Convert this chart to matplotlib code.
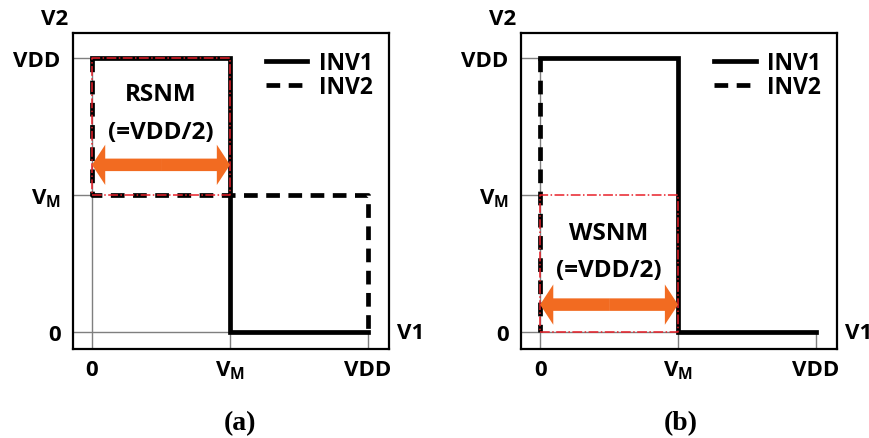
import matplotlib
matplotlib.use("Agg")
from matplotlib import pyplot as plt

plt.rcParams['font.family'] = ['Open Sans', 'DejaVu Sans']
plt.rcParams['font.weight'] = 'bold'
plt.rcParams['mathtext.fontset'] = 'custom'
plt.rcParams['mathtext.rm'] = 'Open Sans:bold'
plt.rcParams['mathtext.it'] = 'Open Sans:bold'
plt.rcParams['mathtext.bf'] = 'Open Sans:bold'

# tick positions: 0, VM, VDD
tick_pos = [0, 1, 2]
tick_labels = ['0', r'$V_M$', 'VDD']

# (a) read operation
inv1_a_x = [0, 1, 1, 2]
inv1_a_y = [2, 2, 0, 0]
inv2_a_x = [0, 0, 2, 2]
inv2_a_y = [2, 1, 1, 0]
box_a_x = [0, 1, 1, 0, 0]
box_a_y = [1, 1, 2, 2, 1]
arrow_a_y = 1.22
text_a = ['RSNM', '(=VDD/2)']
text_a_y = [1.74, 1.46]

# (b) write operation
inv1_b_x = [0, 1, 1, 2]
inv1_b_y = [2, 2, 0, 0]
inv2_b_x = [0, 0]
inv2_b_y = [2, 0]
box_b_x = [0, 1, 1, 0, 0]
box_b_y = [0, 0, 1, 1, 0]
arrow_b_y = 0.2
text_b = ['WSNM', '(=VDD/2)']
text_b_y = [0.72, 0.45]

ORANGE = '#F26B21'
RED = '#E8202A'
GRAY = '#7f7f7f'
XLIM = (-0.138, 2.152)
YLIM = (-0.124, 2.182)


def draw_panel(ax, inv1, inv2, box, arrow_y, texts, texts_y, caption, cap_x):
    ax.set_xlim(*XLIM)
    ax.set_ylim(*YLIM)

    # thin gray guide lines from the axes to each level
    ax.vlines(0, YLIM[0], 2, color=GRAY, lw=1, zorder=1)
    ax.vlines([1, 2], YLIM[0], 0, color=GRAY, lw=1, zorder=1)
    ax.hlines([1, 2], XLIM[0], 0, color=GRAY, lw=1, zorder=1)
    ax.hlines(0, XLIM[0], 1, color=GRAY, lw=1, zorder=1)

    ax.plot(inv1[0], inv1[1], color='black', lw=3.4, label='INV1', zorder=3,
            solid_joinstyle='miter')
    ax.plot(inv2[0], inv2[1], color='black', lw=3.4, ls=(0, (2.9, 1.8)),
            label='INV2', zorder=3)
    ax.plot(box[0], box[1], color=RED, lw=1.1, ls='-.', zorder=4)

    # double arrow: two simple arrows from the middle outwards
    mid = 0.5
    for end in (0, 1):
        ax.annotate('', xy=(end, arrow_y), xytext=(mid, arrow_y),
                    arrowprops=dict(arrowstyle='simple,head_length=0.95,head_width=2.9,tail_width=0.9',
                                    mutation_scale=10, fc=ORANGE, ec='none',
                                    shrinkA=0, shrinkB=0), zorder=5)

    for t, ty in zip(texts, texts_y):
        ax.text(0.5, ty, t, ha='center', va='center', fontsize=17.5, fontweight='bold')

    ax.set_xticks(tick_pos, tick_labels)
    ax.set_yticks(tick_pos, tick_labels)
    ax.tick_params(length=0, labelsize=16)
    ax.tick_params(axis='x', pad=7)
    ax.tick_params(axis='y', pad=9)
    for s in ax.spines.values():
        s.set_linewidth(1.6)

    ax.legend(loc='upper right', bbox_to_anchor=(1.0, 0.995), frameon=False,
              fontsize=16.5, handlelength=1.8, handletextpad=0.5,
              labelspacing=0.0, borderaxespad=0.3)

    ax.text(-0.057, 1.045, 'V2', transform=ax.transAxes, ha='center', va='center',
            fontsize=16, fontweight='bold')
    ax.text(1.025, 0, 'V1', transform=ax.get_yaxis_transform(), ha='left', va='center',
            fontsize=16, fontweight='bold')
    ax.figure.text(cap_x, 0.036, caption, ha='center', va='center', fontsize=20,
                   family='Liberation Serif', fontweight='bold')


fig = plt.figure(figsize=(8.7, 4.39), dpi=100)
ax_a = fig.add_axes([0.0839, 0.2027, 0.3632, 0.7198])
ax_b = fig.add_axes([0.5989, 0.2027, 0.3632, 0.7198])

draw_panel(ax_a, (inv1_a_x, inv1_a_y), (inv2_a_x, inv2_a_y), (box_a_x, box_a_y),
           arrow_a_y, text_a, text_a_y, '(a)', 0.276)
draw_panel(ax_b, (inv1_b_x, inv1_b_y), (inv2_b_x, inv2_b_y), (box_b_x, box_b_y),
           arrow_b_y, text_b, text_b_y, '(b)', 0.782)

fig.savefig('out.png', dpi=100)
